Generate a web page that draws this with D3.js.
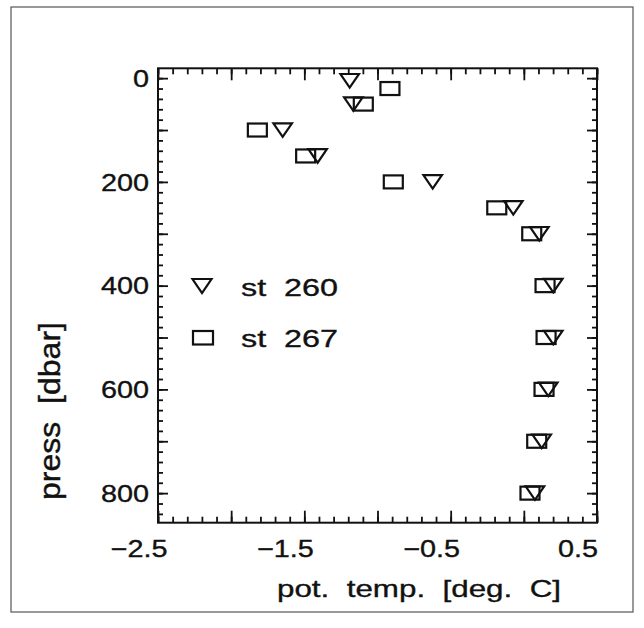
<!DOCTYPE html>
<html><head><meta charset="utf-8">
<script src="https://cdn.jsdelivr.net/npm/d3@7"></script>
<style>html,body{margin:0;padding:0;background:#fff;} svg{display:block;}</style>
</head><body><svg id="c" width="644" height="628"></svg>
<script>
// ---- data ----
const press260 = [5, 50, 100, 150, 200, 250, 300, 400, 500, 600, 700, 800];
const temp260  = [-1.19, -1.165, -1.648, -1.409, -0.623, -0.072, 0.106, 0.201, 0.201, 0.167, 0.122, 0.076];
const press267 = [20, 50, 100, 150, 200, 250, 300, 400, 500, 600, 700, 800];
const temp267  = [-0.915, -1.097, -1.821, -1.491, -0.892, -0.185, 0.054, 0.145, 0.152, 0.138, 0.088, 0.042];
const xLabelValues = [-2.5, -1.5, -0.5, 0.5];
const xLabelText = ["\u22122.5", "\u22121.5", "\u22120.5", "0.5"];
const xMajor = [-2.5, -2.0, -1.5, -1.0, -0.5, 0.0, 0.5];
const yLabelValues = [0, 200, 400, 600, 800];
const yMajor = [0, 100, 200, 300, 400, 500, 600, 700, 800];
const legendNames = ["st  260", "st  267"];
const xTitle = "pot.  temp.  [deg.  C]";
const yTitle = "press  [dbar]";

// ---- layout ----
const L = 158, R = 597, T = 68.3, B = 522.7;
const FONT = "'Liberation Sans', Arial, Helvetica, sans-serif";
const INK = "#111";
const svg = d3.select("#c");
svg.append("rect").attr("width", 644).attr("height", 628).attr("fill", "#fff");
svg.append("rect").attr("x", 11).attr("y", 7).attr("width", 622).attr("height", 605)
  .attr("fill", "none").attr("stroke", "#555").attr("stroke-width", 1.2);

const x = d3.scaleLinear().domain([-2.5, 0.5]).range([L, R]);
const y = d3.scaleLinear().domain([-19, 857]).range([T, B]);

const xMinor = d3.range(-25, 6).map(d => d / 10);
const yMinor = d3.range(0, 860, 20);

function tickAxis(gen, tr) {
  svg.append("g").attr("transform", tr).call(gen)
    .call(s => s.select(".domain").remove())
    .call(s => s.selectAll("text").remove())
    .selectAll("line").attr("stroke", INK).attr("stroke-width", 1.8);
}
tickAxis(d3.axisBottom(x).tickValues(xMinor).tickSize(-6).tickFormat(""), `translate(0,${B})`);
tickAxis(d3.axisBottom(x).tickValues(xMajor).tickSize(-12).tickFormat(""), `translate(0,${B})`);
tickAxis(d3.axisTop(x).tickValues(xMinor).tickSize(-6).tickFormat(""), `translate(0,${T})`);
tickAxis(d3.axisTop(x).tickValues(xMajor).tickSize(-12).tickFormat(""), `translate(0,${T})`);
tickAxis(d3.axisLeft(y).tickValues(yMinor).tickSize(-5).tickFormat(""), `translate(${L},0)`);
tickAxis(d3.axisLeft(y).tickValues(yMajor).tickSize(-10).tickFormat(""), `translate(${L},0)`);
tickAxis(d3.axisRight(y).tickValues(yMinor).tickSize(-5).tickFormat(""), `translate(${R},0)`);
tickAxis(d3.axisRight(y).tickValues(yMajor).tickSize(-10).tickFormat(""), `translate(${R},0)`);

svg.append("rect").attr("x", L).attr("y", T).attr("width", R - L).attr("height", B - T)
  .attr("fill", "none").attr("stroke", INK).attr("stroke-width", 2);

// tick labels
const txt = (g) => g.attr("font-family", FONT).attr("font-size", 24).attr("fill", INK)
  .attr("stroke", INK).attr("stroke-width", 0.35);
svg.append("g").selectAll("text").data(xLabelValues).join("text")
  .attr("transform", d => `translate(${x(d) - 19},557) scale(1.2,1)`)
  .attr("text-anchor", "middle").text((d, i) => xLabelText[i]).call(txt);
svg.append("g").selectAll("text").data(yLabelValues).join("text")
  .attr("transform", d => `translate(149,${y(d) + 8.6}) scale(1.2,1)`)
  .attr("text-anchor", "end").text(d => d).call(txt);

// titles
svg.append("text").attr("x", 277).attr("y", 597).attr("textLength", 284)
  .attr("lengthAdjust", "spacingAndGlyphs").style("white-space", "pre").text(xTitle).call(txt);
svg.append("text").attr("transform", "translate(60,411) scale(1.2,1) rotate(-90)")
  .attr("text-anchor", "middle").attr("textLength", 178).attr("lengthAdjust", "spacingAndGlyphs")
  .style("white-space", "pre").text(yTitle).call(txt).attr("font-size", 25);

// markers
const tri = (w, h) => `M${-w/2},${-h/2}L${w/2},${-h/2}L0,${h/2}Z`;
svg.append("g").selectAll("rect").data(press267).join("rect")
  .attr("x", (d, i) => x(temp267[i]) - 9.5).attr("y", d => y(d) - 6.5)
  .attr("width", 19).attr("height", 13)
  .attr("fill", "none").attr("stroke", INK).attr("stroke-width", 2.2);
svg.append("g").selectAll("path").data(press260).join("path")
  .attr("transform", (d, i) => `translate(${x(temp260[i])},${y(d)})`)
  .attr("d", tri(18.5, 13.5))
  .attr("fill", "none").attr("stroke", INK).attr("stroke-width", 2.2).attr("stroke-linejoin", "miter");

// legend
svg.append("path").attr("transform", "translate(202,286)").attr("d", tri(19, 14))
  .attr("fill", "none").attr("stroke", INK).attr("stroke-width", 2.2);
svg.append("rect").attr("x", 193).attr("y", 331).attr("width", 20).attr("height", 13.5)
  .attr("fill", "none").attr("stroke", INK).attr("stroke-width", 2.2);
svg.append("g").selectAll("text").data(legendNames).join("text")
  .attr("x", 241).attr("y", (d, i) => 296 + i * 51)
  .attr("textLength", 97).attr("lengthAdjust", "spacingAndGlyphs")
  .style("white-space", "pre").text(d => d).call(txt);
</script></body></html>
